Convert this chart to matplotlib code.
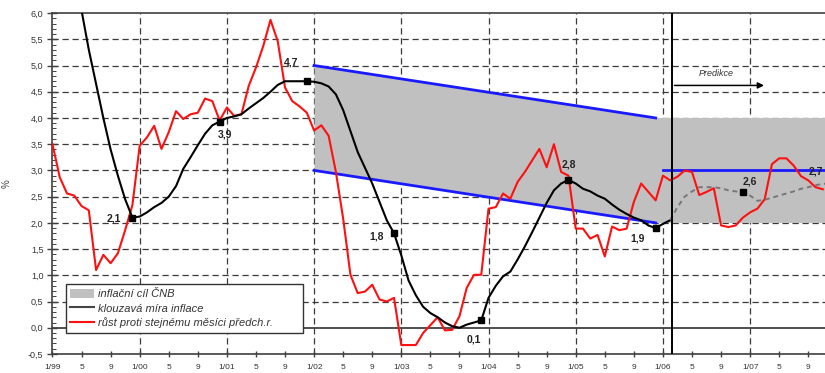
import numpy as np
import matplotlib
matplotlib.use("Agg")
import matplotlib.pyplot as plt
from matplotlib.patches import Patch
from matplotlib.lines import Line2D

plt.rcParams['font.family'] = ['Liberation Sans', 'DejaVu Sans']

# monthly values, month 0 = 1/99
red_yoy = [
    3.50, 2.87, 2.56, 2.52, 2.32, 2.24, 1.10, 1.39, 1.23, 1.42, 1.86, 2.34,
    3.47, 3.63, 3.85, 3.41, 3.73, 4.13, 3.98, 4.07, 4.10, 4.37, 4.32, 3.95,
    4.20, 4.04, 4.07, 4.61, 4.96, 5.37, 5.87, 5.46, 4.58, 4.32, 4.22, 4.10,
    3.76, 3.86, 3.66, 2.97, 2.08, 1.01, 0.66, 0.69, 0.82, 0.54, 0.50, 0.57,
    -0.33, -0.33, -0.33, -0.10, 0.05, 0.20, -0.05, -0.04, 0.22, 0.76, 1.01, 1.01,
    2.27, 2.30, 2.56, 2.46, 2.78, 2.97, 3.19, 3.41, 3.06, 3.50, 2.97, 2.90,
    1.89, 1.89, 1.70, 1.77, 1.36, 1.93, 1.86, 1.89, 2.40, 2.75, 2.59, 2.43,
    2.90, 2.81, 2.88, 3.00, 2.97, 2.53, 2.59, 2.66, 1.95, 1.92, 1.95, 2.10,
    2.20, 2.27, 2.45, 3.12, 3.23, 3.23, 3.09, 2.89, 2.81, 2.68, 2.64,
]
avg_actual = [
    9.60, 8.60, 7.70, 6.85, 6.05, 5.30, 4.65, 4.00, 3.40, 2.90, 2.45, 2.10,
    2.12, 2.20, 2.30, 2.38, 2.50, 2.70, 3.03, 3.25, 3.48, 3.70, 3.86, 3.93,
    4.00, 4.03, 4.07, 4.18, 4.28, 4.38, 4.50, 4.63, 4.70, 4.70, 4.70, 4.70,
    4.69, 4.66, 4.60, 4.45, 4.15, 3.75, 3.35, 3.05, 2.75, 2.40, 2.05, 1.80,
    1.38, 0.90, 0.62, 0.40, 0.28, 0.20, 0.10, 0.03, 0.00, 0.06, 0.10, 0.14,
    0.57, 0.80, 0.98, 1.07, 1.30, 1.55, 1.82, 2.10, 2.38, 2.62, 2.75, 2.82,
    2.75, 2.65, 2.60, 2.52, 2.46, 2.35, 2.25, 2.17, 2.10, 2.05, 1.95, 1.90,
    1.98, 2.05,
]
# prediction of the moving average from month 85 (2/06)
avg_forecast = [
    2.05, 2.30, 2.50, 2.60, 2.68, 2.68, 2.68, 2.66, 2.62, 2.60, 2.58,
    2.52, 2.42, 2.44, 2.48, 2.52, 2.56, 2.60, 2.65, 2.68, 2.72, 2.74, 2.76,
]
forecast_start = 85

# target band: 3-5 % in 1/02 falling to 2-4 % in 12/05, then 3 % +-1
band_x = [36, 83]
band_low = [3.0, 2.0]
band_high = [5.0, 4.0]
target_x = [83, 106.3]
target_mid = [3.0, 3.0]
target_low = [2.0, 2.0]
target_high = [4.0, 4.0]

# December values of the moving average
dec_months = [11, 23, 35, 47, 59, 71, 83, 95, 107]
dec_labels = ['2,1', '3,9', '4,7', '1,8', '0,1', '2,8', '1,9', '2,6', '2,7']
label_shift = [(-2.6, -0.02), (0.8, -0.24), (-2.2, 0.35), (-2.4, -0.06), (-1.0, -0.36),
               (0.0, 0.30), (-2.5, -0.20), (1.0, 0.20), (-2.0, 0.22)]

years = ['99', '00', '01', '02', '03', '04', '05', '06', '07']

months_red = np.arange(len(red_yoy))
months_avg = np.arange(len(avg_actual))
months_fc = np.arange(len(avg_forecast)) + forecast_start
avg_all = np.concatenate([avg_actual, avg_forecast[1:]])

fig = plt.figure(figsize=(8.25, 3.73), dpi=100)
ax = fig.add_axes([0.0636, 0.051, 0.9364, 0.914])

x_end = 106.3
ax.set_xlim(0, x_end)
ax.set_ylim(-0.5, 6.0)

# grid
grid_kw = dict(color='#3a3a3a', lw=0.9, dashes=(5, 3), zorder=1)
for v in np.arange(-0.5, 6.0, 0.5):
    if abs(v) < 1e-9:
        continue
    ax.axhline(v, **grid_kw)
for i in range(1, len(years)):
    ax.axvline(i * 12, **grid_kw)
ax.axhline(0, color='#404040', lw=1.3, zorder=1)

# target band
ax.fill_between(band_x, band_low, band_high, color='#c0c0c0', lw=0, zorder=2)
ax.fill_between(target_x, target_low, target_high, color='#c0c0c0', lw=0, zorder=2)
ax.plot(band_x, band_high, color='#1a1aff', lw=2, zorder=3)
ax.plot(band_x, band_low, color='#1a1aff', lw=2, zorder=3)
ax.plot([84, x_end], target_mid, color='#1a1aff', lw=2, zorder=3)

# series
ax.plot(months_red, red_yoy, color='#ff1010', lw=1.5, zorder=5)
ax.plot(months_avg, avg_actual, color='black', lw=1.5, zorder=6)
ax.plot(months_fc, avg_forecast, color='#777777', lw=1.4, dashes=(2.5, 2), zorder=6)
for m, lab, (dx, dy) in zip(dec_months, dec_labels, label_shift):
    v = avg_all[m] if m < len(avg_all) else avg_forecast[-1]
    ax.plot(m, v, 's', color='black', ms=4.5, zorder=7)
    tx = min(m + dx, 105.0)
    ax.text(tx, v + dy, lab, fontsize=7.5, fontweight='bold', color='#222222',
            ha='center', va='center', zorder=8)

# prediction marker
ax.axvline(85.2, color='black', lw=1.4, zorder=7)
ax.annotate('', xy=(98.3, 4.62), xytext=(85.2, 4.62),
            arrowprops=dict(arrowstyle='-|>', color='black', lw=1.1,
                            mutation_scale=9), zorder=8)
ax.text(91.4, 4.84, 'Predikce', fontsize=6.5, style='italic', color='#333333',
        ha='center', va='center')

# axes
ax.spines['right'].set_visible(False)
for s in ['left', 'bottom', 'top']:
    ax.spines[s].set_color('#404040')
    ax.spines[s].set_linewidth(1.2)

yt = np.arange(-0.5, 6.01, 0.5)
ax.set_yticks(yt)
ax.set_yticklabels([f'{v:.1f}'.replace('.', ',') for v in yt])
ax.set_yticks(np.arange(-0.5, 6.01, 0.1), minor=True)
ax.tick_params(axis='y', which='major', direction='inout', length=7, width=1,
               labelsize=6.5, labelcolor='#333333', color='#404040', pad=3)
ax.tick_params(axis='y', which='minor', direction='in', length=3, width=0.7,
               color='#404040')

xt, xl = [], []
for i, yy in enumerate(years):
    for k, mm in enumerate(['1/' + yy, '5', '9']):
        xt.append(i * 12 + k * 4)
        xl.append(mm)
ax.set_xticks(xt)
ax.set_xticklabels(xl)
ax.tick_params(axis='x', which='major', direction='inout', length=5, width=1,
               labelsize=6, labelcolor='#333333', color='#404040', pad=5)
ax.set_ylabel('%', fontsize=7, color='#444444', labelpad=12)

handles = [Patch(facecolor='#c0c0c0', edgecolor='none'),
           Line2D([], [], color='#444444', lw=1.5),
           Line2D([], [], color='#ff1010', lw=1.5)]
labels = ['inflační cíl ČNB', 'klouzavá míra inflace',
          'růst proti stejnému měsíci předch.r.']
leg = ax.legend(handles, labels, loc='lower left',
                bbox_to_anchor=(0.017, 0.062, 0.307, 0.146), mode='expand',
                borderaxespad=0, frameon=True, fancybox=False,
                framealpha=1, edgecolor='#333333', handlelength=2.2,
                handleheight=0.9, handletextpad=0.3, labelspacing=0.35,
                borderpad=0.4, prop={'style': 'italic', 'size': 8})
leg.get_frame().set_linewidth(1.0)
leg.set_zorder(10)
for t in leg.get_texts():
    t.set_color('#333333')

fig.savefig('out.png', dpi=100)
